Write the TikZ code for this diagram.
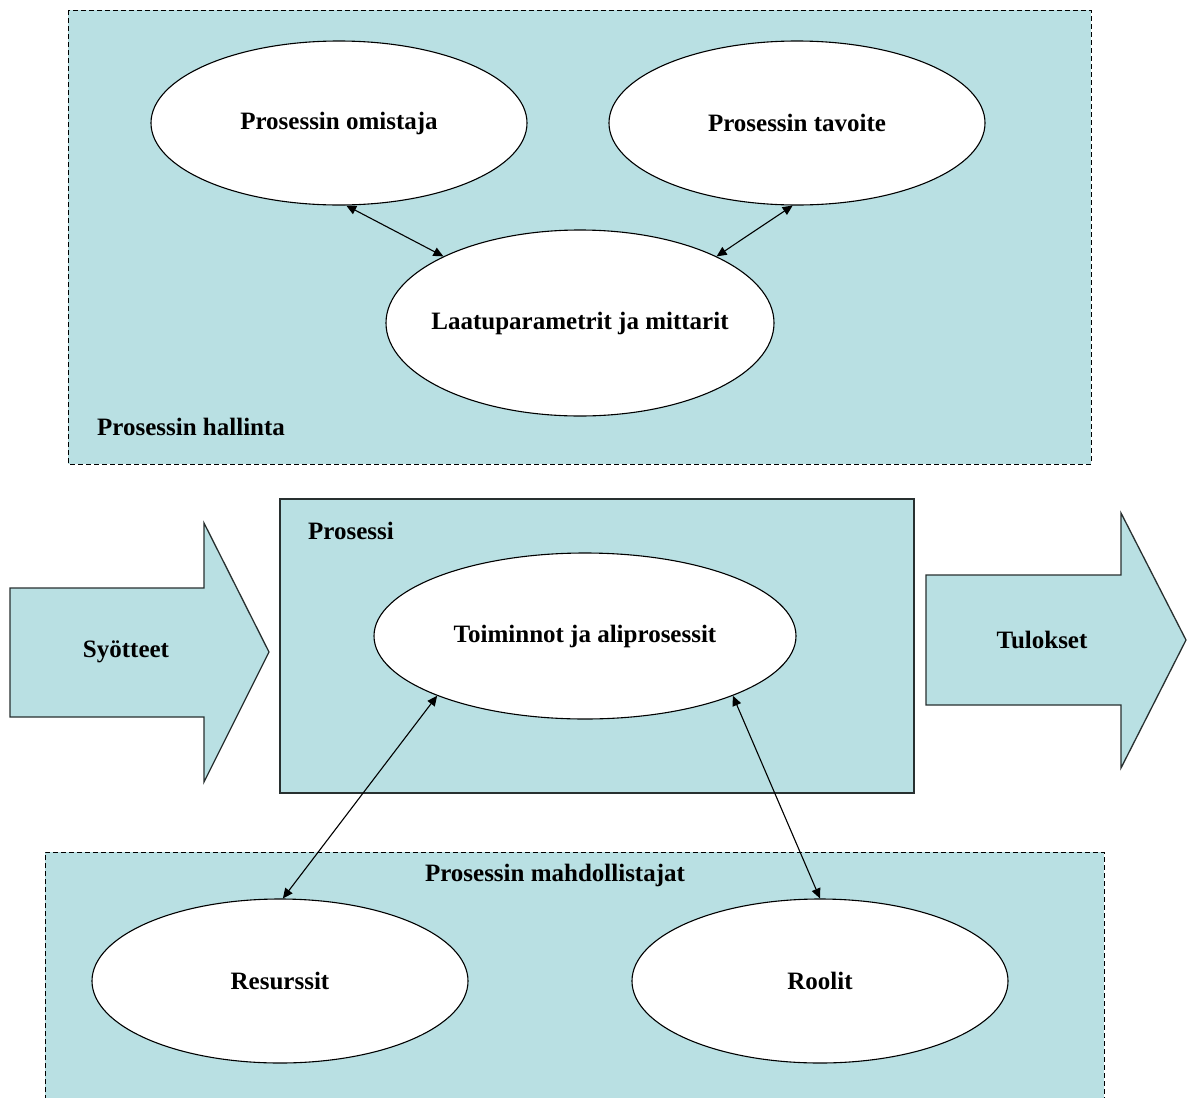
\documentclass[tikz,border=0pt]{standalone}
\usepackage{fontspec}
\setmainfont{Liberation Serif}
\usetikzlibrary{shapes.geometric,arrows.meta}
\definecolor{panel}{RGB}{185,224,227}
\definecolor{edge}{RGB}{40,48,48}
\begin{document}
\begin{tikzpicture}[x=1pt,y=-1pt,
  lbl/.style={font=\fontsize{25}{30}\selectfont\bfseries,text=black,inner sep=0pt},
  oval/.style={lbl,ellipse,draw=black,line width=1.1pt,fill=white,
    minimum width=376pt,minimum height=164pt},
  group/.style={fill=panel,draw=black,line width=0.9pt,dash pattern=on 5pt off 3pt},
  solidbox/.style={fill=panel,draw=edge,line width=1.3pt},
  bigarrow/.style={fill=panel,draw=edge,line width=1.3pt,line join=miter},
  link/.style={line width=1.1pt,{Triangle[length=10pt,width=9pt]}-{Triangle[length=10pt,width=9pt]}}
]
\useasboundingbox (0,0) rectangle (1192,1098);
\fill[white] (0,0) rectangle (1192,1098);

% process management group
\path[group] (68,10) rectangle (1091,464);
\node[lbl,anchor=west] (hallinta) at (97,427) {Prosessin hallinta};
\node[oval] (omistaja) at (339,123) {Prosessin omistaja};
\node[oval] (tavoite) at (797,123) {Prosessin tavoite};
\node[oval,inner xsep=-40pt,minimum width=388pt,minimum height=186pt] (laatu) at (580,323) {Laatuparametrit ja mittarit};

% inputs and outputs
\path[bigarrow] (10,588) -- (204,588) -- (204,523) -- (269,652) -- (204,782) -- (204,717) -- (10,717) -- cycle;
\node[lbl] (syotteet) at (126,652) {Syötteet};
\path[bigarrow] (926,575) -- (1121,575) -- (1121,513) -- (1186,640) -- (1121,768) -- (1121,705) -- (926,705) -- cycle;
\node[lbl] (tulokset) at (1042,640) {Tulokset};

% the process itself
\path[solidbox] (280,499) rectangle (914,793);
\node[lbl,anchor=west] (prosessi) at (308,531) {Prosessi};
\node[oval,minimum width=422pt,minimum height=166pt] (toiminnot) at (585,636) {Toiminnot ja aliprosessit};

% enablers group (runs past the lower edge)
\fill[panel] (45,852) rectangle (1104,1100);
\draw[black,line width=0.9pt,dash pattern=on 5pt off 3pt] (45,1100) -- (45,852) -- (1104,852) -- (1104,1100);
\node[lbl] (mahdollistajat) at (555,875) {Prosessin mahdollistajat};
\node[oval] (resurssit) at (280,981) {Resurssit};
\node[oval] (roolit) at (820,981) {Roolit};

% connectors
\draw[link] (omistaja.-85) -- (laatu.154);
\draw[link] (tavoite.-93) -- (laatu.26);
\draw[link] (toiminnot.-158) -- (resurssit.88);
\draw[link] (toiminnot.-22) -- (roolit.90);
\end{tikzpicture}
\end{document}
